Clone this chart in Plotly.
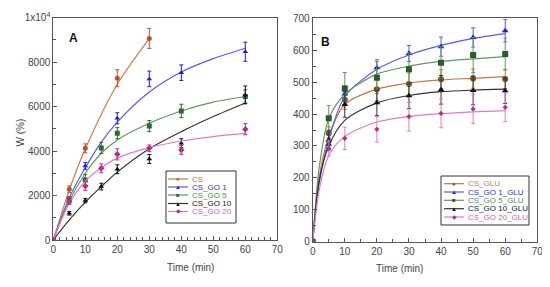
"""Swelling degree W (%) vs time for CS / CS_GO films (A) and glutaraldehyde variants (B)."""

import plotly.graph_objects as go

W_PX, H_PX = 550, 287
PAGE_OFFSET = 8  # default <body> margin of the html page

# ---- panel A data (measured points) ----
TIME_A = [0, 5, 10, 15, 20, 30, 40, 60]
CS_T = [0, 5, 10, 20, 30]
CS_W = [0, 2280, 4120, 7270, 9060]
CS_E = [0, 150, 200, 380, 450]
GO1_T = [0, 5, 10, 20, 30, 40, 60]
GO1_W = [0, 1800, 3330, 5470, 7240, 7520, 8460]
GO1_E = [0, 120, 150, 250, 350, 350, 430]
GO5_W = [0, 1800, 2700, 4140, 4800, 5120, 5800, 6450]
GO5_E = [0, 150, 250, 250, 250, 250, 300, 300]
GO10_W = [0, 1200, 1770, 2400, 3180, 3640, 4350, 6520]
GO10_E = [0, 80, 100, 150, 200, 200, 200, 400]
GO20_W = [0, 1750, 2430, 3220, 3850, 4120, 4050, 4980]
GO20_E = [0, 150, 200, 200, 250, 150, 200, 250]

# ---- panel A fitted curves ----
FIT_T = [0, 5, 10, 15, 20, 30, 40, 50, 60]
CS_FIT_T = [0, 5, 10, 20, 30]
CS_FIT = [0, 2250, 4100, 7000, 9050]
GO1_FIT = [0, 1900, 3250, 4400, 5300, 6650, 7550, 8150, 8620]
GO5_FIT = [0, 1750, 3000, 3900, 4500, 5250, 5800, 6200, 6450]
GO10_FIT = [0, 900, 1700, 2400, 3050, 4100, 4870, 5550, 6160]
GO20_FIT = [0, 1650, 2650, 3250, 3680, 4150, 4450, 4650, 4790]

# ---- panel B data ----
TIME_B = [0, 5, 10, 20, 30, 40, 50, 60]
GLU_W = [0, 340, 445, 478, 494, 509, 511, 510]
GLU_E = [0, 20, 30, 35, 35, 30, 30, 30]
GO1G_W = [0, 305, 463, 545, 590, 611, 640, 661]
GO1G_E = [0, 20, 25, 25, 25, 30, 30, 35]
GO5G_W = [0, 387, 480, 514, 540, 561, 585, 588]
GO5G_E = [0, 40, 50, 50, 50, 50, 55, 50]
GO10G_W = [0, 319, 430, 435, 457, 476, 474, 473]
GO10G_E = [0, 30, 40, 40, 40, 45, 45, 40]
GO20G_W = [0, 293, 324, 352, 392, 402, 416, 421]
GO20G_E = [0, 25, 35, 40, 45, 45, 45, 45]

FIT_TB = [0, 2, 5, 10, 20, 30, 40, 50, 60]
GLU_FIT = [0, 200, 330, 430, 478, 497, 507, 512, 517]
GO1G_FIT = [0, 180, 320, 455, 540, 585, 615, 637, 652]
GO5G_FIT = [0, 230, 385, 462, 525, 550, 565, 573, 580]
GO10G_FIT = [0, 190, 300, 380, 435, 458, 470, 475, 478]
GO20G_FIT = [0, 160, 270, 330, 375, 392, 401, 407, 411]

SERIES_A = [
    ("CS", CS_T, CS_W, CS_E, CS_FIT_T, CS_FIT, "#b0552d", "#d07a4a", "#d07040", "circle"),
    ("CS_GO 1", GO1_T, GO1_W, GO1_E, FIT_T, GO1_FIT, "#1f1fcc", "#5a5ae6", "#3030d0", "triangle-up"),
    ("CS_GO 5", TIME_A, GO5_W, GO5_E, FIT_T, GO5_FIT, "#2d6a2d", "#5e9a5e", "#4a8a4a", "square"),
    ("CS_GO 10", TIME_A, GO10_W, GO10_E, FIT_T, GO10_FIT, "#111111", "#333333", "#111111", "triangle-up"),
    ("CS_GO 20", TIME_A, GO20_W, GO20_E, FIT_T, GO20_FIT, "#b0308c", "#e37ac8", "#e060b0", "diamond"),
]
SERIES_B = [
    ("CS_GLU", GLU_W, GLU_E, GLU_FIT, "#7a4f1e", "#c07a40", "#b08a5a", "circle", 6),
    ("CS_GO 1_GLU", GO1G_W, GO1G_E, GO1G_FIT, "#1f1fcc", "#5a5ae6", "#3030d0", "triangle-up", 6),
    ("CS_GO 5_GLU", GO5G_W, GO5G_E, GO5G_FIT, "#2d5a2d", "#5e9a5e", "#5a8a5a", "square", 6),
    ("CS_GO 10_GLU", GO10G_W, GO10G_E, GO10G_FIT, "#111111", "#333333", "#111111", "triangle-up", 6),
    ("CS_GO 20_GLU", GO20G_W, GO20G_E, GO20G_FIT, "#b0308c", "#e37ac8", "#e060b0", "diamond", 4),
]

GLYPHS = {"circle": "●", "triangle-up": "▲", "square": "■", "diamond": "◆"}


def px_x(x):
    return (x - PAGE_OFFSET) / W_PX


def px_y(y):
    return 1 - (y - PAGE_OFFSET) / H_PX


fig = go.Figure()
shapes = []
annotations = []


def add_legend(entries, box, row_y, line_x, text_x, text_size):
    """Compact hand-drawn legend (plotly's own legend rows are too tall here)."""
    x0, y0, x1, y1 = box
    shapes.append(dict(type="rect", xref="paper", yref="paper", x0=px_x(x0), x1=px_x(x1),
                       y0=px_y(y1), y1=px_y(y0), line=dict(color="#333", width=1), fillcolor="white"))
    for (name, mcol, lcol, tcol, sym), ry in zip(entries, row_y):
        shapes.append(dict(type="line", xref="paper", yref="paper", x0=px_x(line_x[0]), x1=px_x(line_x[1]),
                           y0=px_y(ry), y1=px_y(ry), line=dict(color=lcol, width=1.2)))
        annotations.append(dict(text=GLYPHS[sym], x=px_x((line_x[0] + line_x[1]) / 2), y=px_y(ry),
                                xref="paper", yref="paper", showarrow=False, xanchor="center", yanchor="middle",
                                font=dict(size=6, color=mcol)))
        annotations.append(dict(text=name, x=px_x(text_x), y=px_y(ry), xref="paper", yref="paper",
                                showarrow=False, xanchor="left", yanchor="middle",
                                font=dict(family="Arial", size=text_size, color=tcol)))


for name, t, w, e, ft, fw, mcol, lcol, tcol, sym in SERIES_A:
    fig.add_trace(go.Scatter(x=ft, y=fw, mode="lines", line=dict(color=lcol, width=1.2, shape="spline", smoothing=0.8),
                             showlegend=False, xaxis="x", yaxis="y", hoverinfo="skip"))
    fig.add_trace(go.Scatter(x=t, y=w, mode="markers", name=name, marker=dict(color=mcol, size=5, symbol=sym),
                             error_y=dict(type="data", array=e, color=mcol, thickness=1, width=2),
                             showlegend=False, xaxis="x", yaxis="y"))

for name, w, e, fw, mcol, lcol, tcol, sym, msize in SERIES_B:
    fig.add_trace(go.Scatter(x=FIT_TB, y=fw, mode="lines", line=dict(color=lcol, width=1.2, shape="spline", smoothing=0.8),
                             showlegend=False, xaxis="x2", yaxis="y2", hoverinfo="skip"))
    fig.add_trace(go.Scatter(x=TIME_B, y=w, mode="markers", name=name, marker=dict(color=mcol, size=msize, symbol=sym),
                             error_y=dict(type="data", array=e, color=lcol, thickness=1, width=2),
                             showlegend=False, xaxis="x2", yaxis="y2"))

add_legend([(s[0], s[6], s[7], s[8], s[9]) for s in SERIES_A], (166, 171, 236, 223),
           [179, 187, 195, 203.5, 211.5], (168, 188), 190, 8)
add_legend([(s[0], s[4], s[5], s[6], s[7]) for s in SERIES_B], (441, 176, 529, 225),
           [183.7, 192, 200.3, 208.7, 217], (444, 464), 466, 8)

title_font = dict(family="Arial", size=10, color="#444")
annotations += [
    dict(text="<b>A</b>", x=px_x(67), y=px_y(29), xref="paper", yref="paper", showarrow=False,
         font=dict(family="Arial", size=12, color="#111")),
    dict(text="<b>B</b>", x=px_x(325), y=px_y(33), xref="paper", yref="paper", showarrow=False,
         font=dict(family="Arial", size=12, color="#111")),
    dict(text="W (%)", x=px_x(13), y=px_y(133), xref="paper", yref="paper", showarrow=False, textangle=-90,
         font=title_font),
    dict(text="Time (min)", x=px_x(165), y=px_y(275), xref="paper", yref="paper", showarrow=False, font=title_font),
    dict(text="Time (min)", x=px_x(425), y=px_y(276), xref="paper", yref="paper", showarrow=False, font=title_font),
]

axis_common = dict(showline=True, linecolor="#555", linewidth=1, mirror=True, showgrid=False, zeroline=False,
                   automargin=False, ticks="inside", ticklen=4, tickcolor="#555",
                   tickfont=dict(family="Arial", size=10, color="#444"))
minor = dict(ticks="inside", ticklen=3, tickcolor="#555", showgrid=False)

fig.update_layout(
    width=W_PX, height=H_PX,
    margin=dict(l=0, r=0, t=0, b=0, autoexpand=False),
    paper_bgcolor="white", plot_bgcolor="white",
    font=dict(family="Arial", color="#444"),
    showlegend=False,
    xaxis=dict(domain=[px_x(53.3), px_x(277.3)], range=[0, 70], dtick=10, minor=dict(dtick=2, **minor),
               anchor="y", **axis_common),
    yaxis=dict(domain=[px_y(240), px_y(17.5)], range=[0, 10000], tickvals=[0, 2000, 4000, 6000, 8000, 10000],
               ticktext=["0", "2000", "4000", "6000", "8000", "1x10<sup>4</sup>"], minor=dict(dtick=1000, **minor),
               anchor="x", **axis_common),
    xaxis2=dict(domain=[px_x(312.7), px_x(537.3)], range=[0, 70], dtick=10, minor=dict(dtick=5, **minor),
                anchor="y2", **axis_common),
    yaxis2=dict(domain=[px_y(241.7), px_y(18.3)], range=[0, 700], dtick=100, minor=dict(dtick=50, **minor),
                anchor="x2", **axis_common),
    shapes=shapes,
    annotations=annotations,
)

fig.write_html("out.html")
